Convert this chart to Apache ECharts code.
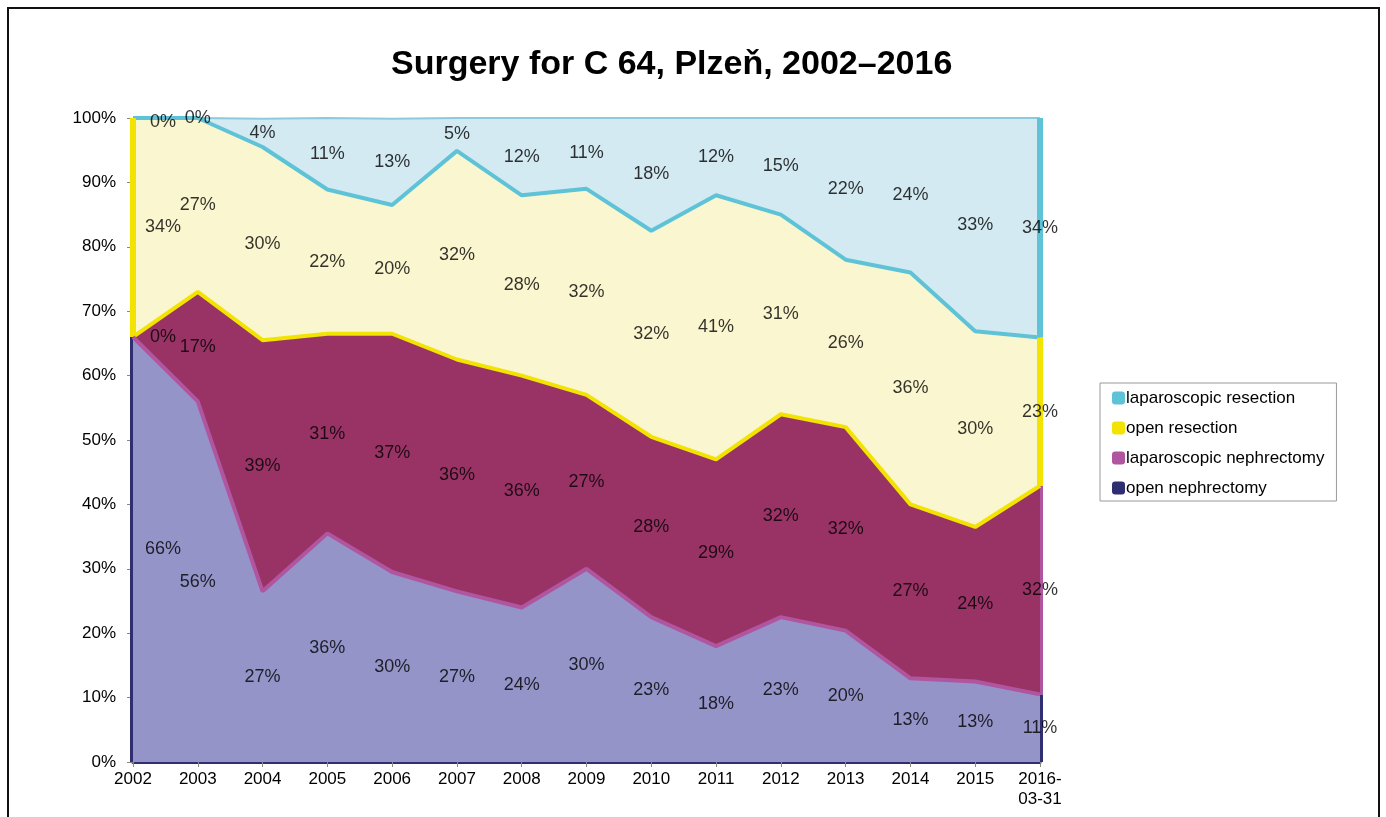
<!DOCTYPE html>
<html>
<head>
<meta charset="utf-8">
<script src="https://cdn.jsdelivr.net/npm/echarts@6/dist/echarts.min.js"></script>
<style>
  html, body { margin: 0; padding: 0; background: #fff; }
  #frame { position: absolute; left: 7px; top: 7px; width: 1373px; height: 900px; border: 2px solid #111; box-sizing: border-box; }
  #chart { position: absolute; left: 0; top: 0; width: 1386px; height: 817px; }
</style>
</head>
<body>
<div id="frame"></div>
<div id="chart"></div>
<script>
// categories and shares (%)
const categories = ['2002', '2003', '2004', '2005', '2006', '2007', '2008', '2009', '2010', '2011', '2012', '2013', '2014', '2015', '2016-\n03-31']
const openNeph = [66, 56, 26.5, 35.5, 29.5, 26.5, 24, 30, 22.5, 18, 22.5, 20.4, 13, 12.5, 10.5]
const lapNeph = [0, 17, 39, 31, 37, 36, 36, 27, 28, 29, 31.5, 31.6, 27, 24, 32.4]
const openRes = [34, 27, 30, 22.4, 20, 32.4, 28, 32, 32, 41, 31, 26, 36, 30.4, 23]
const lapRes = [0, 0, 4.4, 11.1, 13.4, 5.1, 12, 11, 17.5, 12, 15, 22, 24, 33.1, 34.1]
const yTicks = [0, 10, 20, 30, 40, 50, 60, 70, 80, 90, 100]

// bottom series first; line = the visible border on top of the area, edge = series own colour
const defs = [
  { name: 'open nephrectomy', data: openNeph, fill: '#9494c9', line: '#b0559f', edge: '#2e2e70' },
  { name: 'laparoscopic nephrectomy', data: lapNeph, fill: '#993366', line: '#f2e400', edge: '#b0559f' },
  { name: 'open resection', data: openRes, fill: '#faf6cf', line: '#5fc3d8', edge: '#f2e400' },
  { name: 'laparoscopic resection', data: lapRes, fill: '#d3eaf2', line: '#8ccbdc', edge: '#5fc3d8' }
]

const last = categories.length - 1
let bottoms = categories.map(() => 0)
const series = []
const labelSeries = []

defs.forEach((d, k) => {
  const base = bottoms.slice()
  const tops = base.map((b, i) => b + d.data[i])
  const edges = [0, last]
    .filter(i => d.data[i] > 0)
    .map(i => [{ coord: [i, base[i]] }, { coord: [i, tops[i]] }])
  series.push({
    name: d.name,
    type: 'line',
    stack: 'total',
    data: d.data,
    z: 6 - k,
    showSymbol: false,
    symbol: 'none',
    itemStyle: { color: d.edge },
    lineStyle: { color: d.line, width: k === 3 ? 2 : 4 },
    areaStyle: { color: d.fill, opacity: 1 },
    markLine: {
      silent: true,
      symbol: 'none',
      label: { show: false },
      lineStyle: { color: d.edge, width: 6, type: 'solid' },
      data: edges
    }
  })
  labelSeries.push({
    type: 'scatter',
    z: 10,
    symbolSize: 0,
    silent: true,
    data: d.data.map((v, i) => ({
      value: [i, base[i] + v / 2],
      label: i === 0 ? { offset: [30, k === 3 ? 4 : 0] } : undefined
    })),
    label: {
      show: true,
      position: 'inside',
      fontFamily: 'Liberation Sans',
      fontSize: 18,
      color: '#000',
      formatter: p => Math.round(d.data[p.dataIndex]) + '%'
    }
  })
  bottoms = tops
})

const chart = echarts.init(document.getElementById('chart'))
chart.setOption({
  animation: false,
  title: {
    text: 'Surgery for C 64, Plzeň, 2002–2016',
    left: 386,
    top: 43,
    textStyle: { fontFamily: 'Liberation Sans', fontSize: 34, fontWeight: 'bold', color: '#000' }
  },
  legend: {
    orient: 'vertical',
    left: 1100,
    top: 383,
    data: ['laparoscopic resection', 'open resection', 'laparoscopic nephrectomy', 'open nephrectomy'],
    icon: 'roundRect',
    itemWidth: 13,
    itemHeight: 13,
    itemGap: 12,
    padding: [6, 12, 4, 12],
    borderColor: '#999',
    borderWidth: 1,
    textStyle: { fontFamily: 'Liberation Sans', fontSize: 17, color: '#000', lineHeight: 18, padding: [0, 0, 0, -4] }
  },
  grid: { left: 133, right: 346, top: 118, bottom: 55 },
  xAxis: {
    type: 'category',
    data: categories,
    boundaryGap: false,
    axisLine: { lineStyle: { color: '#2e2e70', width: 3 } },
    axisTick: { show: true, length: 5, lineStyle: { color: '#888' } },
    axisLabel: { margin: 7, fontFamily: 'Liberation Sans', fontSize: 17, color: '#000', lineHeight: 20 }
  },
  yAxis: {
    type: 'value',
    min: yTicks[0],
    max: yTicks[yTicks.length - 1],
    interval: 10,
    axisLine: { show: false },
    axisTick: { show: true, length: 6, lineStyle: { color: '#888' } },
    splitLine: { show: false },
    axisLabel: { margin: 17, fontFamily: 'Liberation Sans', fontSize: 17, color: '#000', formatter: '{value}%' }
  },
  series: series.concat(labelSeries)
})
</script>
</body>
</html>
